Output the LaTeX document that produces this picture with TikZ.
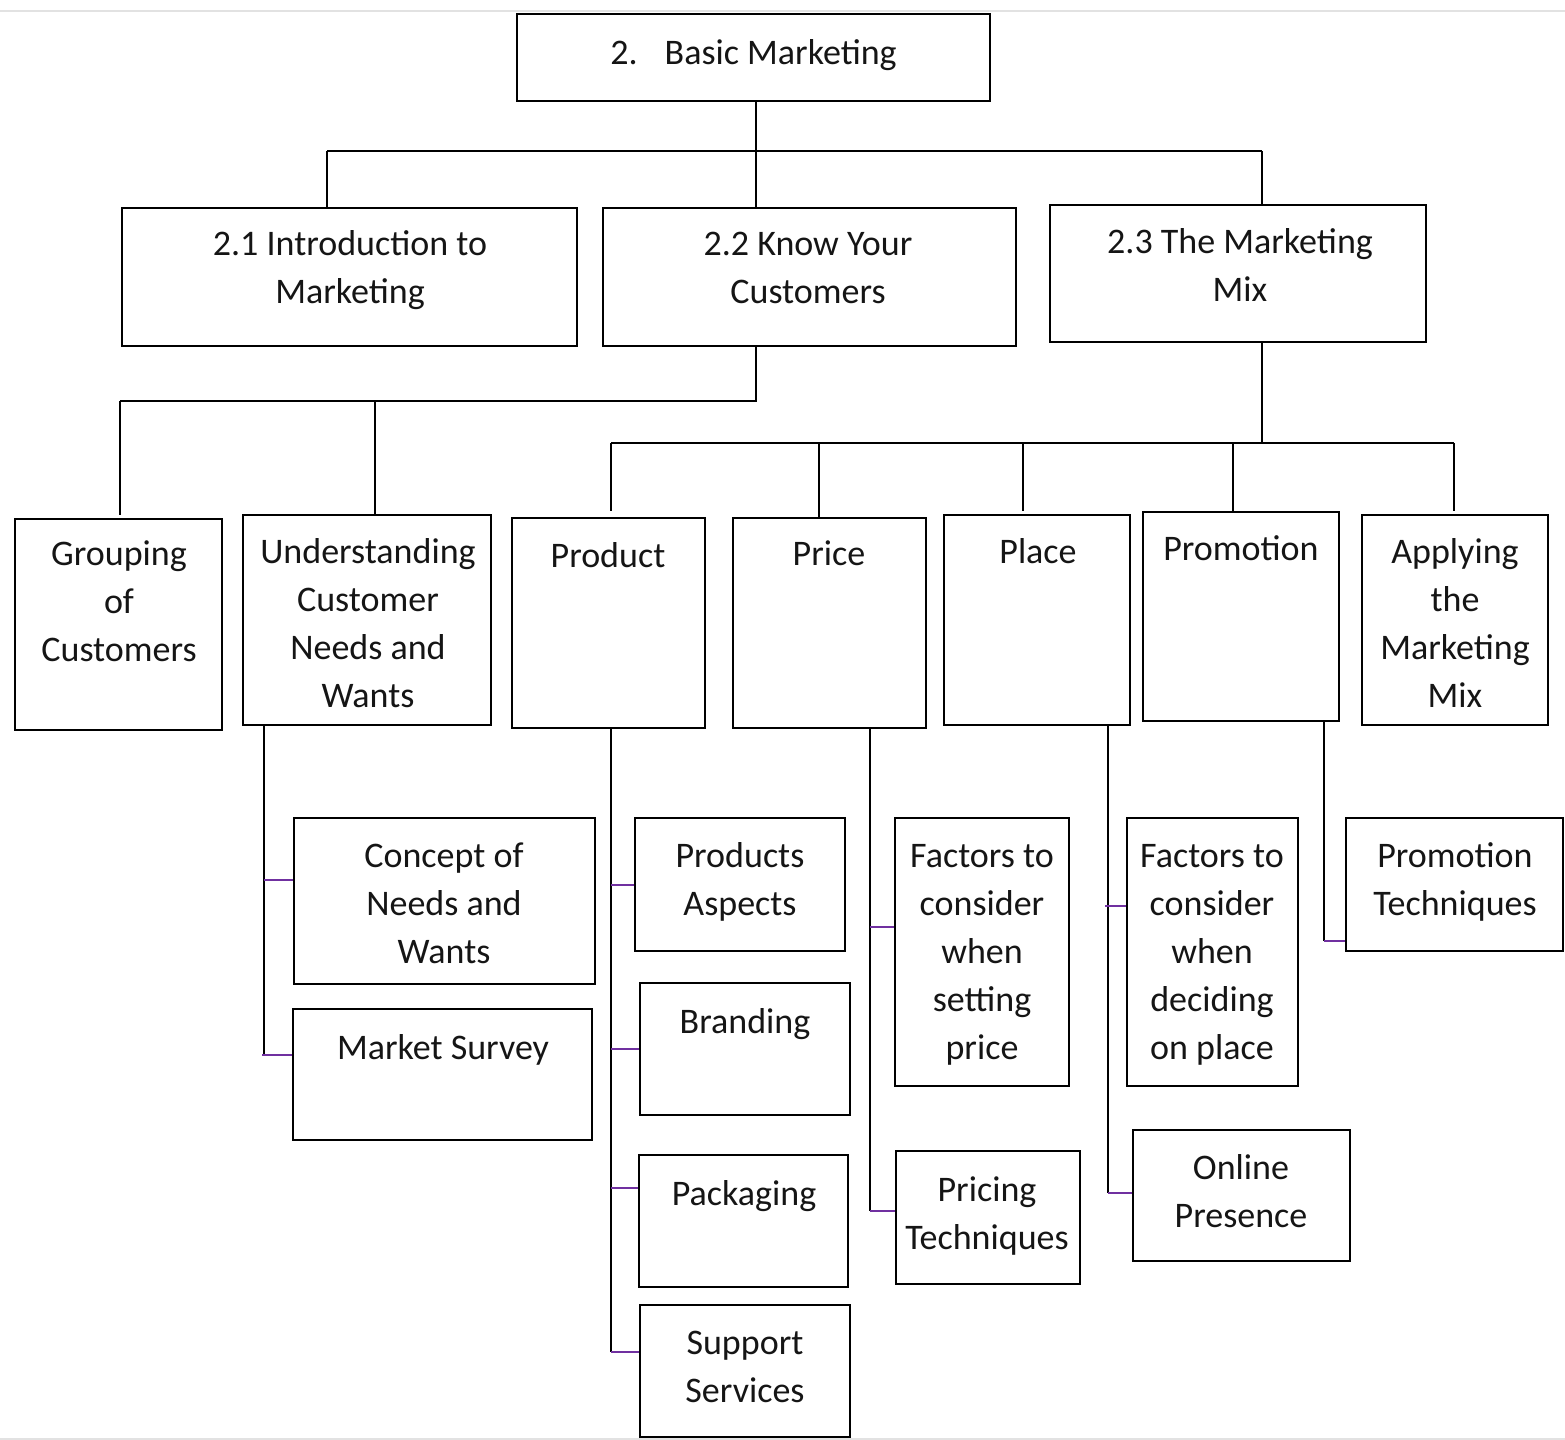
\documentclass[tikz,border=0pt]{standalone}
\usepackage{fontspec}
\setmainfont{Carlito}
\usetikzlibrary{fit}
\definecolor{stubc}{HTML}{7030A0}
\definecolor{txtc}{HTML}{151515}
\definecolor{edgec}{HTML}{E2E2E2}
\begin{document}
\begin{tikzpicture}[x=0.5pt,y=-0.5pt,
  box/.style={draw=black, line width=1.4pt, inner sep=0pt},
  txt/.style={font=\fontsize{18}{24}\selectfont, align=center, inner sep=0pt, text=txtc, yshift=-1.3pt},
  conn/.style={draw=black, line width=1.3pt},
  stub/.style={draw=stubc, line width=1.4pt}]
\useasboundingbox (0,0) rectangle (1565,1440);
\draw[edgec, line width=1pt] (0,11) -- (1565,11);
\draw[edgec, line width=1pt] (0,1438.5) -- (1565,1438.5);

% boxes
\node[box, fit={(517,14) (990,101)}] (bm) {};
\node[box, fit={(122,208) (577,346)}] (intro) {};
\node[box, fit={(603,208) (1016,346)}] (know) {};
\node[box, fit={(1050,205) (1426,342)}] (mix) {};

\node[box, fit={(15,519) (222,730)}] (grp) {};
\node[box, fit={(243,515) (491,725)}] (und) {};
\node[box, fit={(512,518) (705,728)}] (prod) {};
\node[box, fit={(733,518) (926,728)}] (price) {};
\node[box, fit={(944,515) (1130,725)}] (place) {};
\node[box, fit={(1143,512) (1339,721)}] (promo) {};
\node[box, fit={(1362,515) (1548,725)}] (apply) {};

\node[box, fit={(294,818) (595,984)}] (concept) {};
\node[box, fit={(293,1009) (592,1140)}] (survey) {};
\node[box, fit={(635,818) (845,951)}] (aspects) {};
\node[box, fit={(640,983) (850,1115)}] (brand) {};
\node[box, fit={(639,1155) (848,1287)}] (pack) {};
\node[box, fit={(640,1305) (850,1437)}] (support) {};
\node[box, fit={(895,818) (1069,1086)}] (fprice) {};
\node[box, fit={(896,1151) (1080,1284)}] (ptech) {};
\node[box, fit={(1127,818) (1298,1086)}] (fplace) {};
\node[box, fit={(1133,1130) (1350,1261)}] (online) {};
\node[box, fit={(1346,818) (1563,951)}] (promtech) {};

% texts
\node[txt] at (753.5,52) {\strut 2.\hspace{13.5pt}Basic Marketing};
\node[txt] at (350,267.5) {\strut 2.1 Introduction to\\\strut Marketing};
\node[txt] at (808,267.5) {\strut 2.2 Know Your\\\strut Customers};
\node[txt] at (1240,265) {\strut 2.3 The Marketing\\\strut Mix};
\node[txt] at (119,601) {\strut Grouping\\\strut of\\\strut Customers};
\node[txt] at (368,623) {\strut Understanding\\\strut Customer\\\strut Needs and\\\strut Wants};
\node[txt] at (608,555) {\strut Product};
\node[txt] at (829,553) {\strut Price};
\node[txt] at (1038,551) {\strut Place};
\node[txt] at (1241,548) {\strut Promotion};
\node[txt] at (1455,623) {\strut Applying\\\strut the\\\strut Marketing\\\strut Mix};
\node[txt] at (444,903) {\strut Concept of\\\strut Needs and\\\strut Wants};
\node[txt] at (443,1047) {\strut Market Survey};
\node[txt] at (740,879.5) {\strut Products\\\strut Aspects};
\node[txt] at (745,1021) {\strut Branding};
\node[txt] at (744,1193) {\strut Packaging};
\node[txt] at (745,1366) {\strut Support\\\strut Services};
\node[txt] at (982,951) {\strut Factors to\\\strut consider\\\strut when\\\strut setting\\\strut price};
\node[txt] at (987,1213) {\strut Pricing\\\strut Techniques};
\node[txt] at (1212,951) {\strut Factors to\\\strut consider\\\strut when\\\strut deciding\\\strut on place};
\node[txt] at (1241,1191) {\strut Online\\\strut Presence};
\node[txt] at (1455,879.5) {\strut Promotion\\\strut Techniques};

% level 1 bus
\coordinate (t0) at (756,151);
\coordinate (t1) at (327,151);
\coordinate (t3) at (1262,151);
\draw[conn] (bm.south -| t0) -- (t0);
\draw[conn] (t1) -- (t3);
\draw[conn] (t1) -- (t1 |- intro.north);
\draw[conn] (t0) -- (t0 |- know.north);
\draw[conn] (t3) -- (t3 |- mix.north);

% know your customers bus
\coordinate (k0) at (756,401);
\coordinate (k1) at (120,401);
\coordinate (k2) at (375,401);
\draw[conn] (know.south -| k0) -- (k0) -- (k1);
\draw[conn] (k1) -- (120,515);
\draw[conn] (k2) -- (375,515);

% marketing mix bus
\coordinate (m0) at (1262,443);
\coordinate (m1) at (611,443);
\coordinate (m2) at (819,443);
\coordinate (m3) at (1023,443);
\coordinate (m4) at (1233,443);
\coordinate (m5) at (1454,443);
\draw[conn] (mix.south -| m0) -- (m0);
\draw[conn] (m1) -- (m5);
\draw[conn] (m1) -- (611,511);
\draw[conn] (m2) -- (m2 |- price.north);
\draw[conn] (m3) -- (1023,511);
\draw[conn] (m4) -- (1233,511);
\draw[conn] (m5) -- (1454,511);

% understanding branch
\coordinate (u1) at (264,880);
\coordinate (u2) at (264,1055);
\draw[conn] (und.south -| u1) -- (u2);
\draw[stub] (u1) -- (u1 -| concept.west);
\draw[stub] (262,1055) -- (u2 -| survey.west);

% product branch
\coordinate (p1) at (611,885);
\coordinate (p2) at (611,1049);
\coordinate (p3) at (611,1188);
\coordinate (p4) at (611,1352);
\draw[conn] (prod.south -| p1) -- (p4);
\draw[stub] (p1) -- (p1 -| aspects.west);
\draw[stub] (p2) -- (p2 -| brand.west);
\draw[stub] (p3) -- (p3 -| pack.west);
\draw[stub] (p4) -- (p4 -| support.west);

% price branch
\coordinate (r1) at (870,927);
\coordinate (r2) at (870,1211);
\draw[conn] (price.south -| r1) -- (r2);
\draw[stub] (r1) -- (r1 -| fprice.west);
\draw[stub] (r2) -- (r2 -| ptech.west);

% place branch
\coordinate (l1) at (1108,906);
\coordinate (l2) at (1108,1193);
\draw[conn] (place.south -| l1) -- (l2);
\draw[stub] (1105,906) -- (l1 -| fplace.west);
\draw[stub] (l2) -- (l2 -| online.west);

% promotion branch
\coordinate (o1) at (1324,941);
\draw[conn] (promo.south -| o1) -- (o1);
\draw[stub] (o1) -- (o1 -| promtech.west);
\end{tikzpicture}
\end{document}
